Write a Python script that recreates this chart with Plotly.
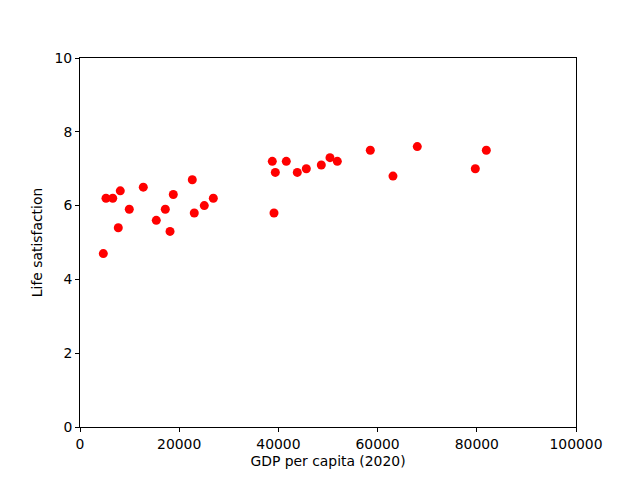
import plotly.graph_objects as go

# GDP per capita (2020) vs life satisfaction
gdp = [4700, 5240, 6600, 7720, 8120, 9940, 12760, 15380, 17200, 18150,
       18810, 22640, 23040, 25060, 26880, 38770, 39110, 39380, 41590, 43810,
       45630, 48650, 50400, 51880, 58530, 63100, 68000, 79700, 81920]
life_sat = [4.7, 6.2, 6.2, 5.4, 6.4, 5.9, 6.5, 5.6, 5.9, 5.3,
            6.3, 6.7, 5.8, 6.0, 6.2, 7.2, 5.8, 6.9, 7.2, 6.9,
            7.0, 7.1, 7.3, 7.2, 7.5, 6.8, 7.6, 7.0, 7.5]

x_ticks = [0, 20000, 40000, 60000, 80000, 100000]
y_ticks = [0, 2, 4, 6, 8, 10]

fig = go.Figure()
fig.add_trace(
    go.Scatter(
        x=gdp,
        y=life_sat,
        mode='markers',
        marker=dict(color='#ff0000', size=9, line=dict(width=0)),
        showlegend=False,
    )
)

axis_style = dict(
    showgrid=False,
    zeroline=False,
    showline=True,
    linecolor='black',
    linewidth=1,
    mirror=True,
    ticks='outside',
    ticklen=4,
    tickwidth=1,
    tickcolor='black',
    tickfont=dict(size=13.9, color='black'),
    title_font=dict(size=13.9, color='black'),
)

# the page body adds an 8px offset, so the margins are shifted to compensate
fig.update_layout(
    width=640,
    height=480,
    paper_bgcolor='white',
    plot_bgcolor='white',
    font=dict(family='DejaVu Sans', size=13.9, color='black'),
    margin=dict(l=72, r=72, t=50, b=61),
    xaxis=dict(axis_style, range=[0, 100000], tickvals=x_ticks,
               ticktext=[str(v) for v in x_ticks],
               title=dict(text='GDP per capita (2020)', standoff=5)),
    yaxis=dict(axis_style, range=[0, 10], tickvals=y_ticks,
               ticktext=[str(v) for v in y_ticks],
               title=dict(text='Life satisfaction', standoff=8)),
)

fig.write_html("out.html")
